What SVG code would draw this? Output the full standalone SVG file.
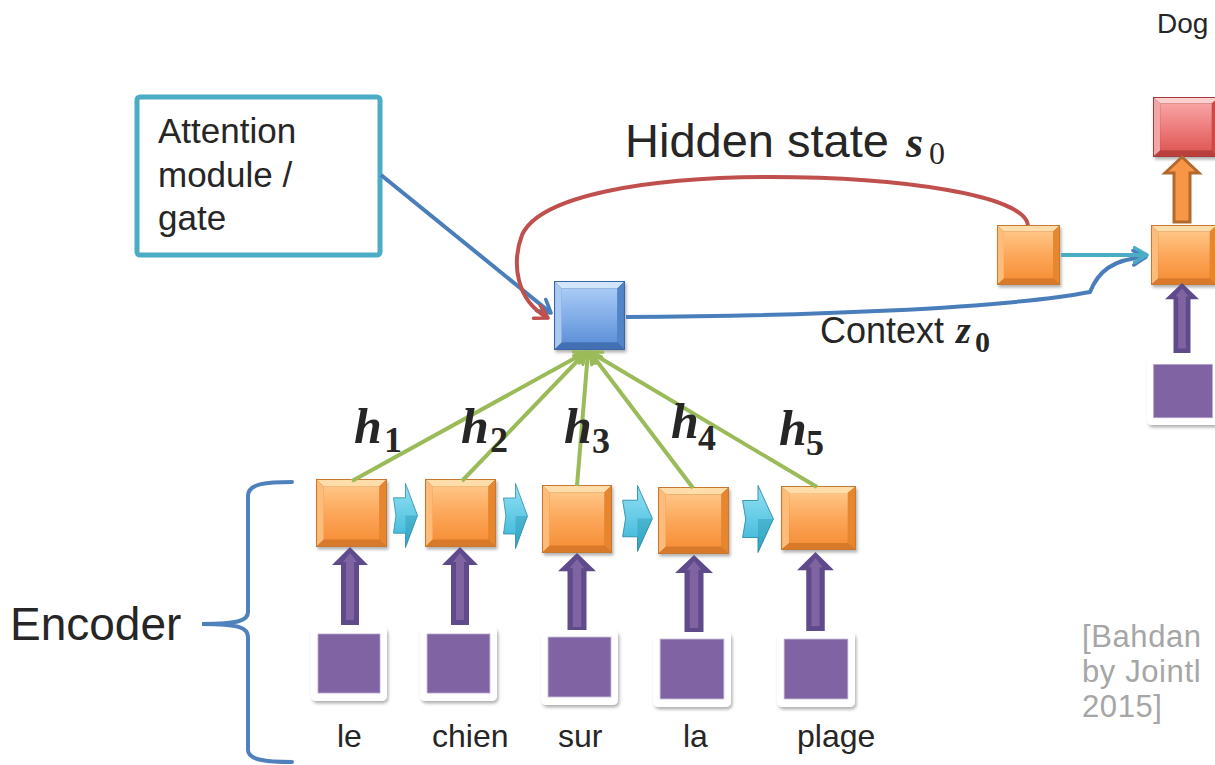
<svg xmlns="http://www.w3.org/2000/svg" xmlns:xlink="http://www.w3.org/1999/xlink" width="1215" height="765" viewBox="0 0 1215 765">
<style>
.t{font-family:"Liberation Sans",Arial,sans-serif;fill:#262626}
.mi{font-family:"Liberation Serif","Times New Roman",serif;font-style:italic;font-weight:bold;fill:#262626}
.md{font-family:"Liberation Serif","Times New Roman",serif;font-weight:bold;fill:#262626}
.mn{font-family:"Liberation Serif","Times New Roman",serif;fill:#262626}
.lbl{font-size:32px}
.ref{font-family:"Liberation Sans",Arial,sans-serif;fill:#A6A6A6;font-size:31px;letter-spacing:0.6px}
.g{stroke:#9BBB59;stroke-width:4;fill:none}
</style>
<defs>
<filter id="sh" x="-20%" y="-20%" width="150%" height="150%">
<feDropShadow dx="1.5" dy="2.5" stdDeviation="1.8" flood-color="#000" flood-opacity="0.3"/>
</filter>
<linearGradient id="og" x1="0" y1="0" x2="0" y2="1"><stop offset="0" stop-color="#FFC585"/><stop offset="0.5" stop-color="#FCA75A"/><stop offset="1" stop-color="#F7913A"/></linearGradient>
<linearGradient id="bg" x1="0" y1="0" x2="0" y2="1"><stop offset="0" stop-color="#A9CBF6"/><stop offset="1" stop-color="#5F92DA"/></linearGradient>
<linearGradient id="rg" x1="0" y1="0" x2="0" y2="1"><stop offset="0" stop-color="#F9A3A3"/><stop offset="1" stop-color="#E05A58"/></linearGradient>
<linearGradient id="cg" x1="0" y1="0" x2="0" y2="1"><stop offset="0" stop-color="#93E2F4"/><stop offset="1" stop-color="#35B3D6"/></linearGradient>
<symbol id="obox" viewBox="0 0 100 100" preserveAspectRatio="none">
<rect width="100" height="100" fill="#C77932"/>
<polygon points="1.5,1.5 98.5,1.5 89,11 11,11" fill="#FFDDAA"/>
<polygon points="1.5,1.5 11,11 11,89 1.5,98.5" fill="#FDBC7A"/>
<polygon points="98.5,1.5 98.5,98.5 89,89 89,11" fill="#E8862F"/>
<polygon points="1.5,98.5 11,89 89,89 98.5,98.5" fill="#D9792A"/>
<rect x="11" y="11" width="78" height="78" fill="url(#og)"/>
</symbol>
<symbol id="bbox" viewBox="0 0 100 100" preserveAspectRatio="none">
<rect width="100" height="100" fill="#3A66A5"/>
<polygon points="1.5,1.5 98.5,1.5 89,11 11,11" fill="#D3E5FC"/>
<polygon points="1.5,1.5 11,11 11,89 1.5,98.5" fill="#AACAF2"/>
<polygon points="98.5,1.5 98.5,98.5 89,89 89,11" fill="#5284C8"/>
<polygon points="1.5,98.5 11,89 89,89 98.5,98.5" fill="#436FB2"/>
<rect x="11" y="11" width="78" height="78" fill="url(#bg)"/>
</symbol>
<symbol id="rbox" viewBox="0 0 100 100" preserveAspectRatio="none">
<rect width="100" height="100" fill="#A53B3A"/>
<polygon points="1.5,1.5 98.5,1.5 89,11 11,11" fill="#FDD0D0"/>
<polygon points="1.5,1.5 11,11 11,89 1.5,98.5" fill="#F4A6A6"/>
<polygon points="98.5,1.5 98.5,98.5 89,89 89,11" fill="#CC4B49"/>
<polygon points="1.5,98.5 11,89 89,89 98.5,98.5" fill="#BA403E"/>
<rect x="11" y="11" width="78" height="78" fill="url(#rg)"/>
</symbol>
<symbol id="chev" viewBox="0 0 26 66" preserveAspectRatio="none">
<polygon points="0.5,15 13,15 13,0.5 25.5,33 13,65.5 13,51 0.5,51 3,33" fill="url(#cg)" stroke="#2B8CA8" stroke-width="0.8"/>
<polygon points="13,33 25.5,33 13,65.5" fill="#1E8BAA" opacity="0.35"/>
</symbol>
<symbol id="parr" viewBox="0 0 36 78" preserveAspectRatio="none">
<polygon points="18,0 36,18 27,18 27,78 9,78 9,18 0,18" fill="#5F4B8B"/>
<polygon points="18,6 25,15 22,15 22,73 14,73 14,15 11,15" fill="#8064A2"/>
</symbol>
<symbol id="card" viewBox="0 0 76 74" preserveAspectRatio="none">
<rect x="0" y="0" width="76" height="74" rx="5" fill="#FFFFFF"/>
<rect x="7" y="7" width="62" height="59" fill="#8064A2" stroke="#B6A6CC" stroke-width="0.8"/>
</symbol>
<marker id="ag" viewBox="0 0 10 10" refX="8" refY="5" markerWidth="4" markerHeight="4" orient="auto">
<path d="M1,1 L8,5 L1,9" fill="none" stroke="#9BBB59" stroke-width="2" stroke-linecap="round" stroke-linejoin="round"/>
</marker>
<marker id="ab" viewBox="0 0 10 10" refX="8" refY="5" markerWidth="4.5" markerHeight="4.5" orient="auto">
<path d="M1,1 L8,5 L1,9" fill="none" stroke="#4A7EBB" stroke-width="2" stroke-linecap="round" stroke-linejoin="round"/>
</marker>
<marker id="ar" viewBox="0 0 10 10" refX="8" refY="5" markerWidth="4.5" markerHeight="4.5" orient="auto">
<path d="M1,1 L8,5 L1,9" fill="none" stroke="#C0504D" stroke-width="2" stroke-linecap="round" stroke-linejoin="round"/>
</marker>
<marker id="ac" viewBox="0 0 10 10" refX="8" refY="5" markerWidth="4.5" markerHeight="4.5" orient="auto">
<path d="M1,1 L8,5 L1,9" fill="none" stroke="#4BACC6" stroke-width="2" stroke-linecap="round" stroke-linejoin="round"/>
</marker>
</defs>
<rect width="1215" height="765" fill="#FFFFFF"/>

<g id="attention-box">
<rect x="137" y="97" width="243" height="158" rx="3" fill="#FFFFFF" stroke="#4BACC6" stroke-width="5"/>
<text class="t" font-size="35"><tspan x="158" y="143">Attention</tspan><tspan x="158" y="187">module /</tspan><tspan x="158" y="230">gate</tspan></text>
</g>

<g id="encoder-brace">
<path d="M292,482 C268,482 248,483 248,496 L248,612 C248,620 240,624 202,624 C240,624 248,628 248,637 L248,750 C248,760 266,762 292,762" fill="none" stroke="#4F81BD" stroke-width="4" stroke-linecap="round"/>
<text class="t" font-size="46" x="10" y="640">Encoder</text>
</g>

<g id="enc1">
<use xlink:href="#obox" href="#obox" x="316" y="479" width="71" height="68" filter="url(#sh)"/>
<use xlink:href="#parr" href="#parr" x="332" y="547" width="36" height="78"/>
<use xlink:href="#card" href="#card" x="311" y="627" width="76" height="74" filter="url(#sh)"/>
<text class="t lbl" x="337" y="747">le</text>
</g>
<g id="enc2">
<use xlink:href="#obox" href="#obox" x="425" y="479" width="71" height="68" filter="url(#sh)"/>
<use xlink:href="#parr" href="#parr" x="442" y="547" width="36" height="78"/>
<use xlink:href="#card" href="#card" x="420" y="627" width="77" height="74" filter="url(#sh)"/>
<text class="t lbl" x="432" y="747">chien</text>
</g>
<g id="enc3">
<use xlink:href="#obox" href="#obox" x="542" y="485" width="70" height="68" filter="url(#sh)"/>
<use xlink:href="#parr" href="#parr" x="558" y="553" width="38" height="79"/>
<use xlink:href="#card" href="#card" x="541" y="630" width="77" height="75" filter="url(#sh)"/>
<text class="t lbl" x="558" y="747">sur</text>
</g>
<g id="enc4">
<use xlink:href="#obox" href="#obox" x="658" y="487" width="71" height="67" filter="url(#sh)"/>
<use xlink:href="#parr" href="#parr" x="675" y="555" width="38" height="78"/>
<use xlink:href="#card" href="#card" x="653" y="632" width="78" height="75" filter="url(#sh)"/>
<text class="t lbl" x="683" y="747">la</text>
</g>
<g id="enc5">
<use xlink:href="#obox" href="#obox" x="781" y="486" width="75" height="64" filter="url(#sh)"/>
<use xlink:href="#parr" href="#parr" x="797" y="552" width="37" height="79"/>
<use xlink:href="#card" href="#card" x="777" y="632" width="78" height="75" filter="url(#sh)"/>
<text class="t lbl" x="797" y="747">plage</text>
</g>

<g id="enc-chevrons">
<use xlink:href="#chev" href="#chev" x="393" y="483" width="25" height="65"/>
<use xlink:href="#chev" href="#chev" x="503" y="483" width="25" height="66"/>
<use xlink:href="#chev" href="#chev" x="622" y="485" width="31" height="67"/>
<use xlink:href="#chev" href="#chev" x="742" y="485" width="32" height="68"/>
</g>

<g id="attention">
<use xlink:href="#bbox" href="#bbox" x="554" y="281" width="71" height="69" filter="url(#sh)"/>
</g>

<g id="decoder-state">
<use xlink:href="#obox" href="#obox" x="997" y="225" width="63" height="60" filter="url(#sh)"/>
</g>
<g id="decoder-cell">
<use xlink:href="#obox" href="#obox" x="1151" y="225" width="66" height="60" filter="url(#sh)"/>
</g>
<g id="decoder-output">
<use xlink:href="#rbox" href="#rbox" x="1153" y="97" width="66" height="60" filter="url(#sh)"/>
<text class="t" font-size="28" x="1157" y="33">Dog</text>
</g>
<g id="decoder-input">
<use xlink:href="#card" href="#card" x="1147" y="358" width="72" height="67" filter="url(#sh)"/>
</g>

<g id="connectors">
<line class="g" x1="352" y1="481" x2="586" y2="352" marker-end="url(#ag)"/>
<line class="g" x1="462" y1="481" x2="586" y2="352" marker-end="url(#ag)"/>
<line class="g" x1="577" y1="486" x2="588" y2="352" marker-end="url(#ag)"/>
<line class="g" x1="693" y1="488" x2="590" y2="352" marker-end="url(#ag)"/>
<line class="g" x1="817" y1="487" x2="590" y2="352" marker-end="url(#ag)"/>
<line x1="381" y1="175" x2="551" y2="313" stroke="#4A7EBB" stroke-width="4" marker-end="url(#ab)"/>
<path d="M1028,225 C1024,195 900,177 770,177 C650,177 540,195 522,235 C512,262 515,300 548,318" fill="none" stroke="#C0504D" stroke-width="4" marker-end="url(#ar)"/>
<path d="M626,317 C800,316 1000,309 1090,292 C1098,272 1112,259 1146,257" fill="none" stroke="#4A7EBB" stroke-width="4" marker-end="url(#ab)"/>
<line x1="1061" y1="255" x2="1147" y2="255" stroke="#4BACC6" stroke-width="4" marker-end="url(#ac)"/>
<polygon points="1182,157 1199,173 1190,173 1190,222 1174,222 1174,173 1165,173" fill="#F79646" stroke="#B4692C" stroke-width="3"/>
<use xlink:href="#parr" href="#parr" x="1165" y="283" width="34" height="70"/>
</g>

<g id="labels">
<text class="t" font-size="47" x="625" y="157">Hidden state</text>
<text class="mi" font-size="44" x="906" y="157">s</text>
<text class="mn" font-size="32" x="929" y="164">0</text>
<text class="t" font-size="36" x="820" y="343">Context</text>
<text class="mi" font-size="38" x="956" y="343">z</text>
<text class="md" font-size="30" x="975" y="352">0</text>
<text class="mi" font-size="50" x="354" y="443">h</text><text class="md" font-size="36" x="384" y="452">1</text>
<text class="mi" font-size="50" x="461" y="443">h</text><text class="md" font-size="36" x="490" y="452">2</text>
<text class="mi" font-size="50" x="564" y="443">h</text><text class="md" font-size="36" x="592" y="453">3</text>
<text class="mi" font-size="50" x="671" y="438">h</text><text class="md" font-size="36" x="698" y="450">4</text>
<text class="mi" font-size="50" x="779" y="445">h</text><text class="md" font-size="36" x="806" y="455">5</text>
<text class="ref"><tspan x="1082" y="647">[Bahdan</tspan><tspan x="1082" y="682">by Jointl</tspan><tspan x="1082" y="717">2015]</tspan></text>
</g>
</svg>
